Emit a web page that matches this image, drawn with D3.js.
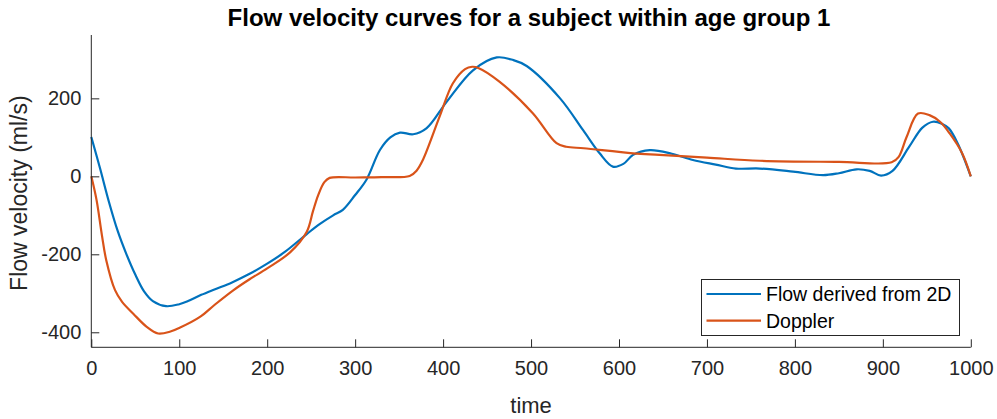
<!DOCTYPE html>
<html>
<head>
<meta charset="utf-8">
<script src="https://cdn.jsdelivr.net/npm/d3@7"></script>
<style>
  html, body { margin: 0; padding: 0; background: #fff; }
  svg { display: block; }
  text { font-family: "Liberation Sans", Arial, Helvetica, sans-serif; }
</style>
</head>
<body>
<svg id="chart" width="997" height="419"></svg>
<script>
// ---- data ----
const blueTime = [0,10,20,30,40,50,60,70,85,100,110,125,140,160,180,200,220,245,260,275,286,300,313,328,340,351,366,381,404,434,461,480,495,533,559,578,593,605,616,635,660,684,710,733,760,798,832,850,870,885,898,911,930,945,957,967,975,985,1000];
const blueVals = [101,20,-65,-140,-200,-252,-295,-320,-333,-328,-320,-304,-290,-272,-250,-224,-194,-148,-122,-100,-86,-48,-8,67,100,112,108,123,191,272,305,298,283,200,119,59,25,32,55,67,58,42,30,20,20,12,3,8,18,14,2,14,76,125,140,135,123,85,0];

const orangeTime = [0,6,12,17,27,35,48,63,76,90,101,124,140,161,180,200,226,245,252,258,265,271,300,330,362,370,377,396,411,425,433,440,464,502,529,540,560,616,646,700,760,850,910,918,927,940,953,965,976,990,1000];
const orangeVals = [0,-61,-150,-215,-292,-322,-353,-386,-403,-398,-388,-360,-330,-293,-264,-236,-195,-142,-90,-48,-15,-4,-3,-2,1,15,42,153,238,275,281,278,243,162,85,76,72,59,55,48,40,37,36,50,101,161,157,140,110,60,0];

const seriesNames = ["Flow derived from 2D", "Doppler"];
const xTicks = [0,100,200,300,400,500,600,700,800,900,1000];
const yTicks = [-400,-200,0,200];
const titleText = "Flow velocity curves for a subject within age group 1";
const xLabel = "time";
const yLabel = "Flow velocity (ml/s)";

// ---- layout ----
const colors = ["#0072BD", "#D95319"];
const axisColor = "#262626";
const pLeft = 91.3, pRight = 970.8, pTop = 35, pBottom = 347.3;

const svg = d3.select("#chart");
const x = d3.scaleLinear().domain([0, 1000]).range([pLeft, pRight]);
const y = d3.scaleLinear().domain([-438.5, 362.5]).range([pBottom, pTop]);

// lines
const mk = (t, v) => t.map((d, i) => [d, v[i]]);
const series = [mk(blueTime, blueVals), mk(orangeTime, orangeVals)];
const line = d3.line().x(d => x(d[0])).y(d => y(d[1])).curve(d3.curveCatmullRom.alpha(0.5));
const plot = svg.append("g");
series.forEach((s, i) => {
  plot.append("path").datum(s)
    .attr("fill", "none")
    .attr("stroke", colors[i])
    .attr("stroke-width", 2.2)
    .attr("stroke-linejoin", "round")
    .attr("d", line);
});

// axes
const xAxis = d3.axisBottom(x).tickValues(xTicks).tickSize(-8).tickPadding(14).tickFormat(d3.format("d"));
const gx = svg.append("g").attr("transform", `translate(0,${pBottom})`).call(xAxis);
const yAxis = d3.axisLeft(y).tickValues(yTicks).tickSize(-8).tickPadding(10).tickFormat(d => String(d));
const gy = svg.append("g").attr("transform", `translate(${pLeft},0)`).call(yAxis);
[gx, gy].forEach(g => {
  g.select(".domain").attr("stroke", axisColor).attr("stroke-width", 1);
  g.selectAll(".tick line").attr("stroke", axisColor).attr("stroke-width", 1);
  g.selectAll(".tick text").attr("fill", axisColor).style("font-size", "20px")
    .style("font-family", "'Liberation Sans', Arial, sans-serif");
});
gx.select(".domain").attr("d", `M${pLeft},0H${pRight}`);
gy.select(".domain").attr("d", `M0,${pTop}V${pBottom}`);

// title and labels
svg.append("text").attr("x", 529).attr("y", 26).attr("text-anchor", "middle")
  .style("font-size", "24px").style("font-weight", "bold").attr("fill", "#000").text(titleText);
svg.append("text").attr("x", (pLeft + pRight) / 2).attr("y", 413).attr("text-anchor", "middle")
  .style("font-size", "22px").attr("fill", axisColor).text(xLabel);
svg.append("text").attr("transform", `translate(27,${(pTop + pBottom) / 2 + 2}) rotate(-90)`)
  .attr("text-anchor", "middle").style("font-size", "23px").attr("fill", axisColor).text(yLabel);

// legend
const lg = svg.append("g");
lg.append("rect").attr("x", 701.5).attr("y", 279.5).attr("width", 258).attr("height", 56)
  .attr("fill", "#fff").attr("stroke", axisColor).attr("stroke-width", 1);
seriesNames.forEach((n, i) => {
  const yy = 294 + i * 26.7;
  lg.append("line").attr("x1", 706.5).attr("x2", 761).attr("y1", yy).attr("y2", yy)
    .attr("stroke", colors[i]).attr("stroke-width", 2.2);
  lg.append("text").attr("x", 766).attr("y", yy + 7).style("font-size", "19.5px")
    .attr("fill", "#000").text(n);
});
</script>
</body>
</html>
